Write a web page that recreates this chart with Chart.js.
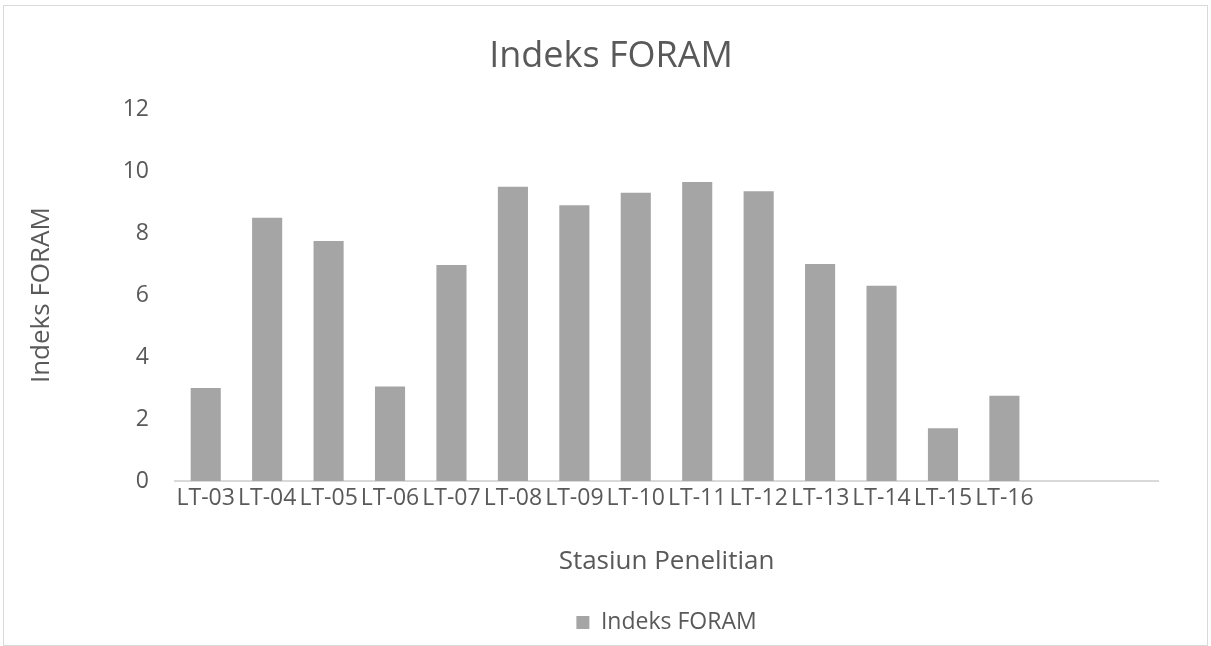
<!DOCTYPE html>
<html>
<head>
<meta charset="utf-8">
<script src="https://cdn.jsdelivr.net/npm/chart.js@4/dist/chart.umd.min.js"></script>
<style>
  html, body { margin:0; padding:0; background:#fff; }
  #wrap { position:relative; width:1211px; height:646px; }
  #frame { position:absolute; left:3px; top:5px; width:1203px; height:639px; border:1px solid #d9d9d9; pointer-events:none; }
</style>
</head>
<body>
<div id="wrap">
  <canvas id="chart" width="1211" height="646"></canvas>
  <div id="frame"></div>
</div>
<script>
const stations = ['LT-03','LT-04','LT-05','LT-06','LT-07','LT-08','LT-09','LT-10','LT-11','LT-12','LT-13','LT-14','LT-15','LT-16','',''];
const foramIndex = [3.0, 8.5, 7.75, 3.05, 6.97, 9.5, 8.9, 9.3, 9.65, 9.35, 7.0, 6.3, 1.7, 2.75, null, null];
const yTicks = [0, 2, 4, 6, 8, 10, 12];

const FONT = "'Open Sans', sans-serif";
const TEXT = '#595959';

new Chart(document.getElementById('chart'), {
  type: 'bar',
  data: {
    labels: stations,
    datasets: [{ label:'Indeks FORAM', data: foramIndex, backgroundColor:'#a5a5a5', categoryPercentage:1, barPercentage:0.49 }]
  },
  options: {
    responsive:false, animation:false,
    // uneven left/right padding so the title centres where the reference has it
    layout: { padding: { left:64, right:53, top:0, bottom:2 } },
    plugins: {
      title: { display:true, text:'Indeks FORAM', color:TEXT, font:{family:FONT, size:36, weight:'normal'}, padding:{top:35, bottom:31} },
      legend: { position:'bottom', fullSize:false, labels:{ color:TEXT, font:{family:FONT, size:23}, boxWidth:13, boxHeight:13, padding:8 } },
      tooltip: { enabled:false }
    },
    scales: {
      x: {
        grid:{display:false, drawTicks:false},
        border:{display:true, color:'#d9d9d9', width:2},
        ticks:{ color:TEXT, font:{family:FONT, size:23}, autoSkip:false, maxRotation:0, minRotation:0, padding:4 },
        title:{ display:true, text:'Stasiun Penelitian', color:TEXT, font:{family:FONT, size:26}, padding:{top:0, bottom:26} },
        afterFit: s => { s.height = 122; }
      },
      y: {
        min:0, max:12,
        afterBuildTicks: s => { s.ticks = yTicks.map(v => ({ value:v })); },
        grid:{display:false, drawTicks:false},
        border:{display:false},
        ticks:{ color:TEXT, font:{family:FONT, size:23}, padding:26 },
        title:{ display:true, text:'Indeks FORAM', color:TEXT, font:{family:FONT, size:26}, padding:{top:-38, bottom:0} },
        afterFit: s => { s.width = 111; }
      }
    }
  }
});
</script>
</body>
</html>
